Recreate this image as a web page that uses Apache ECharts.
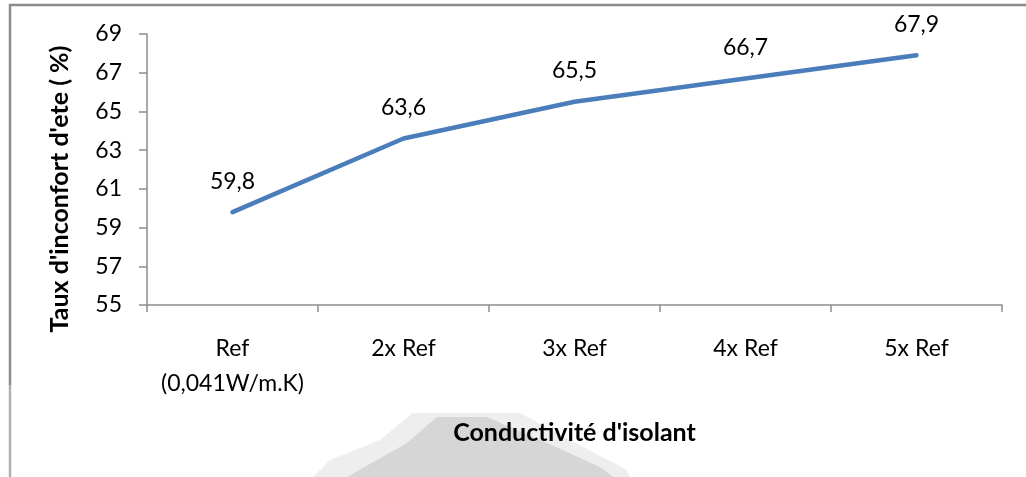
<!DOCTYPE html>
<html>
<head>
<meta charset="utf-8">
<script src="https://cdn.jsdelivr.net/npm/echarts@6/dist/echarts.min.js"></script>
<style>
  html, body { margin: 0; padding: 0; background: #ffffff; }
  #chart { width: 1026px; height: 477px; }
</style>
</head>
<body>
<div id="chart"></div>
<script>
// Summer discomfort rate versus insulation conductivity
const categories = ['Ref\n(0,041W/m.K)', '2x Ref', '3x Ref', '4x Ref', '5x Ref'];
const discomfortRate = [59.8, 63.6, 65.5, 66.7, 67.9];
const yAxisTitle = "Taux d'inconfort d'ete ( %)";
const xAxisTitle = "Conductivité d'isolant";

const FONT = 'Lato, "Open Sans", sans-serif';
const AXIS_GRAY = '#8c8c8c';

const chart = echarts.init(document.getElementById('chart'), null, { renderer: 'canvas' });

chart.setOption({
  backgroundColor: '#ffffff',
  animation: false,
  grid: { left: 147, right: 24, top: 34, bottom: 172, containLabel: false },
  xAxis: {
    type: 'category',
    data: categories,
    boundaryGap: true,
    name: xAxisTitle,
    nameLocation: 'middle',
    nameGap: 128,
    nameTextStyle: { fontFamily: FONT, fontSize: 25, fontWeight: 'bold', color: '#000', verticalAlign: 'middle' },
    axisLine: { lineStyle: { color: AXIS_GRAY, width: 1.5 } },
    axisTick: { show: true, inside: false, length: 7, alignWithLabel: false, lineStyle: { color: AXIS_GRAY, width: 1.5 } },
    axisLabel: { fontFamily: FONT, fontSize: 23, color: '#000', margin: 26, lineHeight: 35, interval: 0 },
    splitLine: { show: false }
  },
  yAxis: {
    type: 'value',
    min: 55,
    max: 69,
    interval: 2,
    axisLine: { show: true, lineStyle: { color: AXIS_GRAY, width: 1.5 } },
    axisTick: { show: true, inside: false, length: 8, lineStyle: { color: AXIS_GRAY, width: 1.5 } },
    axisLabel: { fontFamily: FONT, fontSize: 23, color: '#000', margin: 25 },
    splitLine: { show: false }
  },
  series: [{
    type: 'line',
    data: discomfortRate,
    symbol: 'circle',
    symbolSize: 1,
    showSymbol: true,
    itemStyle: { color: 'rgba(0,0,0,0)' },
    lineStyle: { color: '#4a7ebb', width: 4.5, cap: 'round', join: 'round' },
    label: {
      show: true,
      position: 'top',
      distance: 19,
      fontFamily: FONT,
      fontSize: 23,
      color: '#000',
      formatter: p => String(p.value).replace('.', ',')
    }
  }],
  graphic: [
    // vertical axis title
    {
      type: 'text',
      silent: true,
      x: 60,
      y: 189,
      rotation: Math.PI / 2,
      style: {
        text: yAxisTitle,
        fontFamily: FONT,
        fontSize: 25,
        fontWeight: 'bold',
        fill: '#000',
        align: 'center',
        verticalAlign: 'middle'
      }
    },
    // frame along the top and left edges
    {
      type: 'polyline',
      silent: true,
      shape: { points: [[10, 385], [10, 5], [1026, 5]] },
      style: { stroke: AXIS_GRAY, lineWidth: 2.5, fill: null }
    },
    {
      type: 'line',
      silent: true,
      shape: { x1: 10, y1: 385, x2: 10, y2: 477 },
      style: { stroke: '#b0b0b0', lineWidth: 2.5 }
    },
    // pale stepped shape behind the x-axis title
    {
      type: 'polygon',
      silent: true,
      z: -10,
      shape: { points: [[313, 477], [330, 460], [380, 440], [413, 413], [520, 413], [570, 440], [627, 470], [630, 477]] },
      style: { fill: '#eeeeee' }
    },
    {
      type: 'polygon',
      silent: true,
      z: -9,
      shape: { points: [[347, 477], [377, 460], [407, 443], [437, 417], [487, 417], [547, 443], [600, 467], [613, 477]] },
      style: { fill: '#d6d6d6' }
    }
  ]
});
</script>
</body>
</html>
